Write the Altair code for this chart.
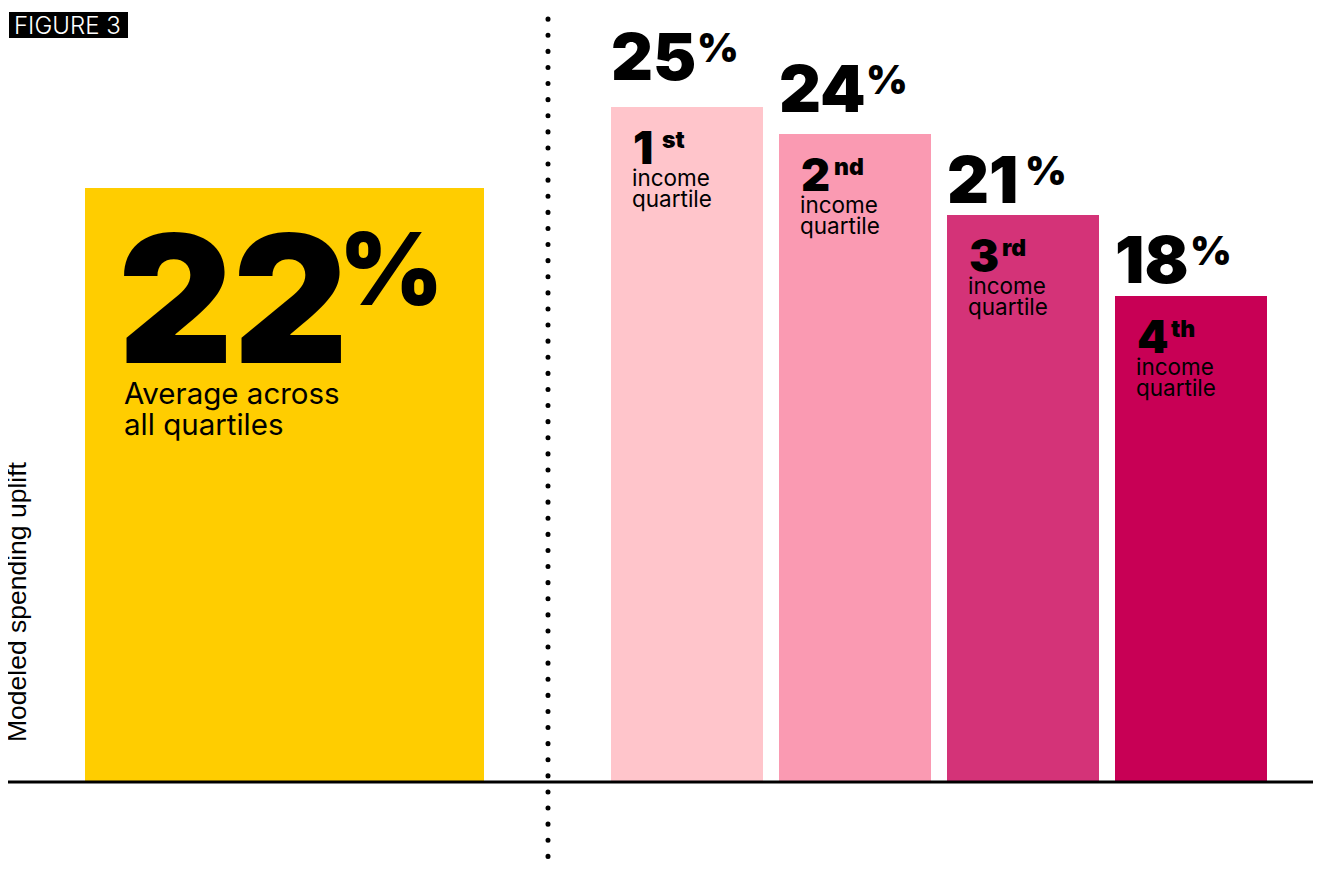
import altair as alt
import pandas as pd

# ---------------- data ----------------
quartile_num = ["1", "2", "3", "4"]
quartile_suffix = ["st", "nd", "rd", "th"]
quartile_text = ["income\nquartile"] * 4
quartile_values = [25, 24, 21, 18]
quartile_colors = ["#FFC5CB", "#FA9AB2", "#D43378", "#C80055"]

average_value = 22
average_text = "Average across\nall quartiles"
average_color = "#FFCD00"

y_title = "Modeled spending uplift"
figure_label = "FIGURE 3"

# ---------------- layout ----------------
W, H = 1305, 855
PX_PER_PCT = 27.0
ZERO_PX = 774
PITCH = 168.0
y_dom = [-(H - ZERO_PX) / PX_PER_PCT, ZERO_PX / PX_PER_PCT]
x_dom = [0, W / PITCH]

q_left = [(603 + PITCH * i) / PITCH for i in range(4)]
q_right = [l + 152 / PITCH for l in q_left]
avg_left, avg_right = 77 / PITCH, 476 / PITCH
divider_x = 540 / PITCH
num_gap_px = [27, 22, 12, 13]
pct_dx_px = [86, 87, 78, 75]
suf_dx_px = [51, 55, 55, 56]

cats = ["avg"] + [n + s for n, s in zip(quartile_num, quartile_suffix)]
colors = [average_color] + quartile_colors

bars = pd.DataFrame({
    "cat": cats,
    "value": [average_value] + quartile_values,
    "x0": [avg_left] + q_left,
    "x1": [avg_right] + q_right,
    "base": [0] * 5,
})

q = pd.DataFrame({
    "cat": cats[1:],
    "value": quartile_values,
    "x0": q_left,
    "pct_x": [l + d / PITCH for l, d in zip(q_left, pct_dx_px)],
    "suf_x": [l + d / PITCH for l, d in zip(q_left, suf_dx_px)],
    "num": [str(v) for v in quartile_values],
    "num_y": [v + g / PX_PER_PCT for v, g in zip(quartile_values, num_gap_px)],
    "ord": quartile_num,
    "suf": quartile_suffix,
    "desc": quartile_text,
})

avg = pd.DataFrame({
    "value": [average_value],
    "x0": [avg_left],
    "num": [str(average_value)],
    "desc": [average_text],
})

xs = alt.Scale(domain=x_dom, nice=False, zero=False)
ys = alt.Scale(domain=y_dom, nice=False, zero=False)


def X(f):
    return alt.X(f, scale=xs, axis=None)


def Y(f):
    return alt.Y(f, scale=ys, axis=None)


FONT = "Inter"

bar_layer = alt.Chart(bars).mark_rect().encode(
    x=X("x0:Q"), x2="x1:Q", y=Y("value:Q"), y2="base:Q",
    color=alt.Color("cat:N", scale=alt.Scale(domain=cats, range=colors), legend=None),
)

baseline = alt.Chart(pd.DataFrame({"v": [0]})).mark_rule(color="black", strokeWidth=3).encode(
    y=Y("v:Q"), x=alt.value(0), x2=alt.value(W)
)

divider = alt.Chart(pd.DataFrame({"d": [divider_x]})).mark_rule(
    color="black", strokeWidth=5, strokeDash=[0.1, 16], strokeCap="round", strokeDashOffset=5
).encode(x=X("d:Q"), y=alt.value(0), y2=alt.value(H))

# quartile labels
q_num = alt.Chart(q).mark_text(align="left", baseline="alphabetic", font=FONT, fontWeight=900,
                               fontSize=65, dx=0, color="black").encode(
    x=X("x0:Q"), y=Y("num_y:Q"), text="num:N")
q_pct = alt.Chart(q).mark_text(align="left", baseline="alphabetic", font=FONT, fontWeight=900,
                               fontSize=40, dy=-18, color="black").encode(
    x=X("pct_x:Q"), y=Y("num_y:Q"), text=alt.value("%"))
q_ord = alt.Chart(q).mark_text(align="left", baseline="alphabetic", font=FONT, fontWeight=900,
                               fontSize=45, dx=22, dy=57, color="black").encode(
    x=X("x0:Q"), y=Y("value:Q"), text="ord:N")
q_suf = alt.Chart(q).mark_text(align="left", baseline="alphabetic", font=FONT, fontWeight=900,
                               fontSize=23, dy=41, color="black").encode(
    x=X("suf_x:Q"), y=Y("value:Q"), text="suf:N")
q_desc = alt.Chart(q).mark_text(align="left", baseline="alphabetic", font=FONT, fontWeight=400,
                                fontSize=22.5, dx=21, dy=79, lineBreak="\n", lineHeight=21,
                                color="black").encode(
    x=X("x0:Q"), y=Y("value:Q"), text="desc:N")

# average labels
a_num = alt.Chart(avg).mark_text(align="left", baseline="alphabetic", font=FONT, fontWeight=900,
                                 fontSize=178, dx=33, dy=175, color="black").encode(
    x=X("x0:Q"), y=Y("value:Q"), text="num:N")
a_pct = alt.Chart(avg).mark_text(align="left", baseline="alphabetic", font=FONT, fontWeight=900,
                                 fontSize=100, dx=254, dy=117, color="black").encode(
    x=X("x0:Q"), y=Y("value:Q"), text=alt.value("%"))
a_desc = alt.Chart(avg).mark_text(align="left", baseline="alphabetic", font=FONT, fontWeight=400,
                                  fontSize=29.5, dx=39, dy=216, lineBreak="\n", lineHeight=31,
                                  color="black").encode(
    x=X("x0:Q"), y=Y("value:Q"), text="desc:N")

# decorations
ytitle = alt.Chart(pd.DataFrame({"t": [y_title]})).mark_text(
    angle=270, align="left", baseline="alphabetic", font="Liberation Sans", fontSize=26.5,
    color="black").encode(x=alt.value(18), y=alt.value(734), text="t:N")

fig_box = alt.Chart(pd.DataFrame({"t": [figure_label]})).mark_rect(color="black").encode(
    x=alt.value(1), x2=alt.value(120), y=alt.value(4), y2=alt.value(30))
fig_text = alt.Chart(pd.DataFrame({"t": [figure_label]})).mark_text(
    align="left", baseline="alphabetic", font=FONT, fontSize=24, fontWeight=300, color="white"
).encode(x=alt.value(6), y=alt.value(26), text="t:N")

chart = alt.layer(
    bar_layer, baseline, divider,
    q_num, q_pct, q_ord, q_suf, q_desc,
    a_num, a_pct, a_desc,
    ytitle, fig_box, fig_text,
).properties(
    width=W, height=H, padding=0, autosize=alt.AutoSizeParams(type="none"),
    background="white",
).configure_view(stroke=None)

chart.save("out.html", embed_options={"renderer": "svg", "actions": False})
